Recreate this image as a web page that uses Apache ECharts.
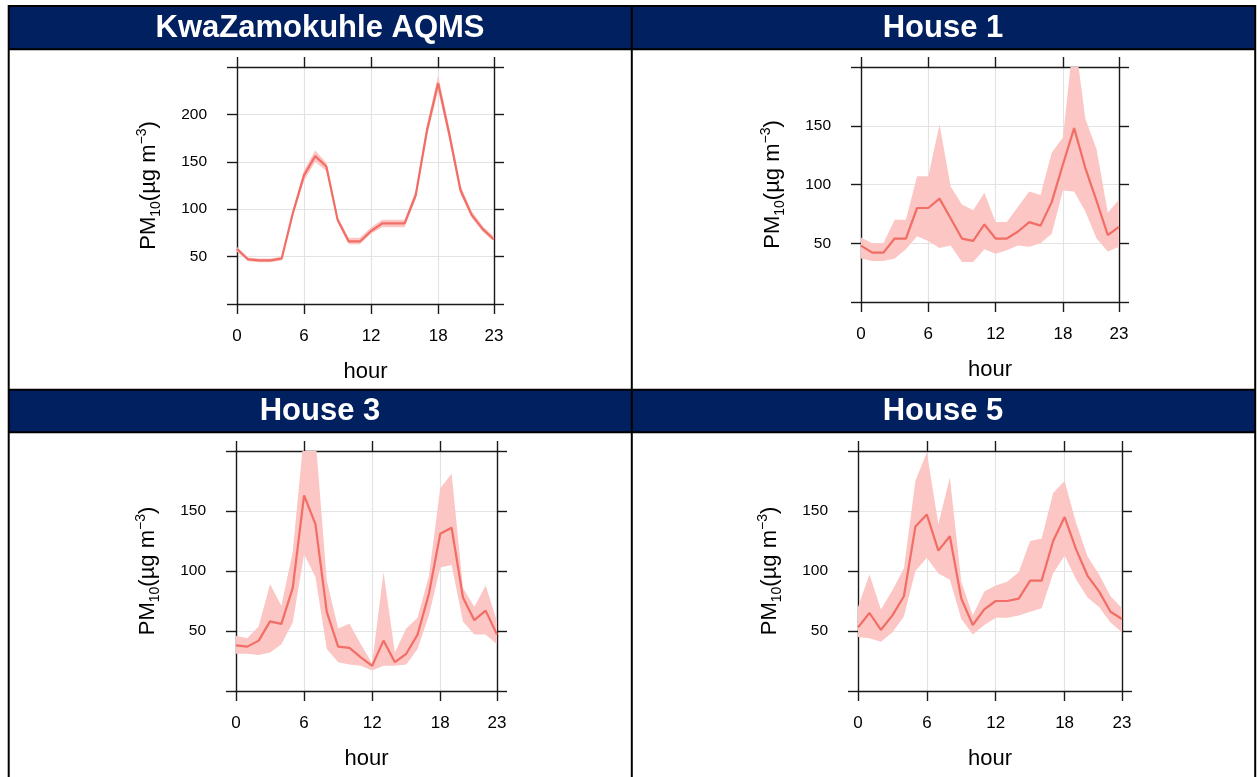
<!DOCTYPE html>
<html>
<head>
<meta charset="utf-8">
<title>PM10 diurnal profiles</title>
<script src="https://cdn.jsdelivr.net/npm/echarts@6/dist/echarts.min.js"></script>
<style>
  html, body { margin: 0; padding: 0; background: #ffffff; }
  #chart { width: 1257px; height: 777px; }
</style>
</head>
<body>
<div id="chart"></div>
<script>
// Hour of day, shared by all four sites
const hours = [0, 1, 2, 3, 4, 5, 6, 7, 8, 9, 10, 11, 12, 13, 14, 15, 16, 17, 18, 19, 20, 21, 22, 23];
const hourTicks = [0, 6, 12, 18, 23];

const panelTitles = ['KwaZamokuhle AQMS', 'House 1', 'House 3', 'House 5'];
const yMax = [250, 200, 200, 200];

// KwaZamokuhle AQMS: mean PM10 and its confidence band
const aqmsMean  = [58, 47, 46, 46, 48, 96, 136, 156, 145, 89, 66, 66, 77, 85, 85, 85, 115, 183, 233, 179, 120, 94, 79, 68];
const aqmsLower = [55, 45, 44, 44, 46, 92, 130, 150, 140, 86, 63, 63, 74, 81, 81, 81, 111, 177, 225, 173, 116, 91, 76, 66];
const aqmsUpper = [60, 49, 48, 48, 50, 99, 141, 162, 149, 92, 70, 70, 81, 89, 89, 89, 120, 189, 241, 186, 125, 98, 82, 71];

// House 1
const house1Mean  = [48, 42, 42, 54, 54, 80, 80, 88, 71, 54, 52, 66, 54, 54, 60, 68, 65, 85, 117, 148, 114, 86, 57, 64];
const house1Lower = [37, 35, 35, 37, 45, 56, 52, 46, 48, 34, 34, 45, 41, 44, 48, 47, 50, 58, 95, 94, 77, 54, 43, 47];
const house1Upper = [55, 50, 50, 70, 70, 107, 107, 151, 98, 83, 78, 93, 68, 68, 81, 94, 91, 127, 140, 229, 156, 130, 76, 87];

// House 3
const house3Mean  = [38, 37, 42, 58, 56, 86, 163, 139, 66, 37, 36, 28, 21, 42, 24, 31, 47, 81, 131, 136, 78, 59, 67, 47];
const house3Lower = [31, 31, 30, 32, 39, 57, 114, 95, 35, 24, 22, 21, 17, 21, 21, 22, 35, 63, 103, 105, 58, 47, 47, 39];
const house3Upper = [46, 44, 54, 89, 71, 116, 215, 212, 92, 52, 56, 39, 23, 99, 32, 52, 61, 96, 169, 181, 86, 70, 88, 58];

// House 5
const house5Mean  = [53, 65, 51, 63, 79, 137, 147, 117, 129, 77, 55, 68, 75, 75, 77, 92, 92, 125, 145, 118, 96, 83, 66, 60];
const house5Lower = [45, 44, 41, 49, 62, 100, 111, 98, 93, 60, 47, 55, 61, 61, 63, 66, 69, 98, 113, 93, 78, 70, 57, 49];
const house5Upper = [70, 97, 68, 84, 102, 175, 199, 139, 178, 91, 63, 83, 88, 91, 99, 125, 127, 165, 175, 140, 112, 97, 79, 69];

const siteMeans  = [aqmsMean, house1Mean, house3Mean, house5Mean];
const siteLowers = [aqmsLower, house1Lower, house3Lower, house5Lower];
const siteUppers = [aqmsUpper, house1Upper, house3Upper, house5Upper];

// ---- layout & style ----
const FONT = '"Liberation Sans", Arial, Helvetica, sans-serif';
const NAVY = '#00205f';
const LINE_COLOR = '#f26d65';
const BAND_COLOR = '#fbc6c3';
const GRID_COLOR = '#e3e3e3';
const FRAME_COLOR = '#1a1a1a';

const plotBoxes = [
  { left: 237, top: 67, width: 257, height: 237 },
  { left: 861, top: 67, width: 258, height: 235 },
  { left: 236, top: 451, width: 261, height: 240 },
  { left: 858, top: 451, width: 264, height: 240 }
];
const headerCenters = [[320, 28.5], [943, 28.5], [320, 411], [943, 411]];

const frameLine = { color: FRAME_COLOR, width: 1.4 };
const tickStyle = { show: true, inside: false, length: 10, lineStyle: { color: FRAME_COLOR, width: 1.4 } };

const grids = [], xAxes = [], yAxes = [], series = [];

// Shaded band between lower and upper limits, drawn as one polygon in data space
function bandRenderer(lower, upper) {
  return function (params, api) {
    if (params.dataIndex !== 0) return null;
    const pts = [];
    for (let k = 0; k < hours.length; k++) pts.push(api.coord([hours[k], upper[k]]));
    for (let k = hours.length - 1; k >= 0; k--) pts.push(api.coord([hours[k], lower[k]]));
    const cs = params.coordSys;
    return {
      type: 'group',
      clipPath: { type: 'rect', shape: { x: cs.x, y: cs.y, width: cs.width, height: cs.height } },
      children: [{ type: 'polygon', shape: { points: pts }, style: { fill: BAND_COLOR }, silent: true }]
    };
  };
}

plotBoxes.forEach((box, i) => {
  grids.push(Object.assign({ containLabel: false }, box));

  const xBase = {
    gridIndex: i, type: 'value', min: 0, max: 23, interval: 6,
    axisLine: { show: true, onZero: false, lineStyle: frameLine },
    axisTick: tickStyle
  };
  xAxes.push(Object.assign({}, xBase, {
    position: 'bottom',
    axisLabel: {
      show: true, margin: 24, fontSize: 17, color: '#000', fontFamily: FONT,
      formatter: v => (hourTicks.indexOf(v) >= 0 ? String(v) : '')
    },
    splitLine: { show: true, lineStyle: { color: GRID_COLOR, width: 1.2 } },
    name: 'hour', nameLocation: 'middle', nameGap: 57,
    nameTextStyle: { fontSize: 22, color: '#000', fontFamily: FONT }
  }));
  xAxes.push(Object.assign({}, xBase, {
    position: 'top', axisLabel: { show: false }, splitLine: { show: false }
  }));

  const yBase = {
    gridIndex: i, type: 'value', min: 0, max: yMax[i], interval: 50,
    axisLine: { show: true, onZero: false, lineStyle: frameLine },
    axisTick: tickStyle
  };
  yAxes.push(Object.assign({}, yBase, {
    position: 'left',
    axisLabel: {
      show: true, margin: 30, fontSize: 15.5, color: '#000', fontFamily: FONT,
      formatter: v => (v === 0 || v === yMax[i] ? '' : String(v))
    },
    splitLine: { show: true, lineStyle: { color: GRID_COLOR, width: 1.2 } },
    name: '{t|PM}{sub|10}{t|(µg m}{sup|−3}{t|)}',
    nameLocation: 'middle', nameRotate: 90, nameGap: 74,
    nameTextStyle: {
      color: '#000', fontFamily: FONT,
      rich: {
        t: { fontSize: 22, lineHeight: 28, fontFamily: FONT, color: '#000' },
        sub: { fontSize: 14, lineHeight: 15, verticalAlign: 'bottom', fontFamily: FONT, color: '#000' },
        sup: { fontSize: 14, lineHeight: 15, verticalAlign: 'top', fontFamily: FONT, color: '#000' }
      }
    }
  }));
  yAxes.push(Object.assign({}, yBase, {
    position: 'right', axisLabel: { show: false }, splitLine: { show: false }
  }));

  const lower = siteLowers[i], upper = siteUppers[i], mean = siteMeans[i];
  series.push({
    type: 'custom', xAxisIndex: 2 * i, yAxisIndex: 2 * i,
    silent: true, animation: false, z: 2,
    data: hours.map((h, k) => [h, lower[k], upper[k]]),
    encode: { x: 0, y: [1, 2] },
    renderItem: bandRenderer(lower, upper)
  });
  series.push({
    type: 'line', xAxisIndex: 2 * i, yAxisIndex: 2 * i,
    symbol: 'none', silent: true, animation: false, clip: true, z: 5,
    data: hours.map((h, k) => [h, mean[k]]),
    lineStyle: { color: LINE_COLOR, width: 2.2 }
  });
});

// Table frame with navy header rows
const graphics = [
  { type: 'rect', shape: { x: 9, y: 6, width: 1246, height: 43 }, style: { fill: NAVY }, z: 0 },
  { type: 'rect', shape: { x: 9, y: 390, width: 1246, height: 42 }, style: { fill: NAVY }, z: 0 }
];
[6, 49.2, 389.7, 432.3].forEach(y => graphics.push({
  type: 'line', shape: { x1: 8, y1: y, x2: 1256, y2: y },
  style: { stroke: '#000', lineWidth: 2 }, z: 1
}));
[8.7, 631.8, 1255.2].forEach(x => graphics.push({
  type: 'line', shape: { x1: x, y1: 5, x2: x, y2: 777 },
  style: { stroke: '#000', lineWidth: 2 }, z: 1
}));
panelTitles.forEach((title, i) => graphics.push({
  type: 'text', x: headerCenters[i][0], y: headerCenters[i][1], z: 2,
  style: {
    text: title, fill: '#ffffff', font: 'bold 31px ' + FONT,
    textAlign: 'center', textVerticalAlign: 'middle'
  }
}));

const chart = echarts.init(document.getElementById('chart'), null, { renderer: 'canvas' });
chart.setOption({
  backgroundColor: '#ffffff',
  animation: false,
  grid: grids,
  xAxis: xAxes,
  yAxis: yAxes,
  series: series,
  graphic: graphics
});
</script>
</body>
</html>
